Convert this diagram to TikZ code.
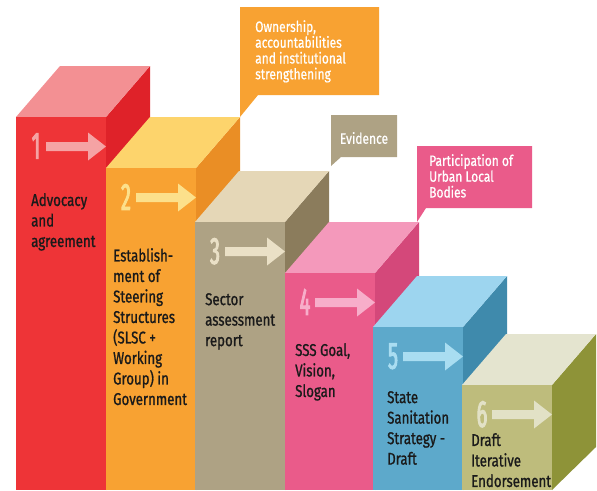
\documentclass[tikz,border=0pt]{standalone}
\usepackage{fontspec}
\setmainfont{Fira Sans}[FakeStretch=0.78, FakeBold=1]
\newfontfamily\calloutfont{Fira Sans}[FakeStretch=0.8, FakeBold=0.6]
\newfontfamily\numfont{Fira Sans}[FakeStretch=0.52, FakeBold=2.5]

% block colours: front, top, side, number/arrow
\definecolor{redfront}{HTML}{EE3437}
\definecolor{redtop}{HTML}{F39093}
\definecolor{redside}{HTML}{DF2229}
\definecolor{redmark}{HTML}{F5A3A4}
\definecolor{orangefront}{HTML}{F8A232}
\definecolor{orangetop}{HTML}{FDD46C}
\definecolor{orangeside}{HTML}{EA8E25}
\definecolor{orangemark}{HTML}{FCE08B}
\definecolor{taupefront}{HTML}{AEA284}
\definecolor{taupetop}{HTML}{E5D7B7}
\definecolor{taupeside}{HTML}{8B7C5C}
\definecolor{taupemark}{HTML}{EAE0C6}
\definecolor{pinkfront}{HTML}{EA5B8A}
\definecolor{pinktop}{HTML}{F499BB}
\definecolor{pinkside}{HTML}{D4487A}
\definecolor{pinkmark}{HTML}{F7AECA}
\definecolor{bluefront}{HTML}{5DA9CB}
\definecolor{bluetop}{HTML}{9DD5EF}
\definecolor{blueside}{HTML}{3F8AAC}
\definecolor{bluemark}{HTML}{A9DDF1}
\definecolor{olivefront}{HTML}{BEBC7C}
\definecolor{olivetop}{HTML}{E4E4CF}
\definecolor{oliveside}{HTML}{8E9338}
\definecolor{olivemark}{HTML}{E2E1C6}
\definecolor{inktext}{HTML}{1A1A1A}

% one step of the staircase: #1 colour prefix, #2 left x, #3 top y, #4 number, #5 name
\newcommand{\drawstep}[5]{%
  \fill[#1side] (#2+90,#3) -- ++(44,-51) -- (#2+134,447) -- (#2+90,490) -- cycle;
  \fill[#1top] (#2,#3) -- ++(44,-51) -- ++(90,0) -- (#2+90,#3) -- cycle;
  \fill[#1front] (#2,#3) rectangle (#2+90,490);
  \fill[#1mark] (#2+30,#3+25) -- (#2+72,#3+25) -- (#2+72,#3+15.5) -- (#2+90,#3+29.5)
    -- (#2+72,#3+43.5) -- (#2+72,#3+34) -- (#2+30,#3+34) -- cycle;
  \node[stepnum, text=#1mark] (#5) at (#2+20,#3+29) {#4};
}

\begin{document}
\begin{tikzpicture}[x=1pt, y=-1pt,
    stepnum/.style={inner sep=0pt, text depth=0pt,
      font=\numfont\fontsize{38}{38}\selectfont},
    steptext/.style={anchor=north west, inner sep=0pt, align=left, text=inktext,
      font=\fontsize{17}{20.5}\selectfont},
    callouttext/.style={inner sep=0pt, align=left, text=white,
      font=\calloutfont\fontsize{15}{15.8}\selectfont}]
  \useasboundingbox (0,0) rectangle (597,490);

  \drawstep{red}{16}{117}{1}{n1}
  \drawstep{orange}{106}{168}{2}{n2}
  \drawstep{taupe}{195}{222}{3}{n3}
  \drawstep{pink}{285}{273}{4}{n4}
  \drawstep{blue}{373}{327}{5}{n5}
  \drawstep{olive}{462}{385}{6}{n6}

  % step descriptions
  \node[steptext] (t1) at (31,193) {Advocacy\\and\\agreement};
  \node[steptext] (t2) at (113,248) {Establish-\\ment of\\Steering\\Structures\\(SLSC +\\Working\\Group) in\\Government};
  \node[steptext] (t3) at (205,293) {Sector\\assessment\\report};
  \node[steptext] (t4) at (295,343) {SSS Goal,\\Vision,\\Slogan};
  \node[steptext] (t5) at (387,391) {State\\Sanitation\\Strategy -\\Draft};
  \node[steptext] (t6) at (471,433) {Draft\\Iterative\\Endorsement};

  % speech callouts
  \fill[orangefront] (240,7) -- (379,7) -- (379,95) -- (258,95) -- (240,117) -- cycle;
  \node[callouttext, anchor=north west] (c1) at (255,20)
    {Ownership,\\accountabilities\\and institutional\\strengthening};
  \fill[taupefront] (331,115) -- (397,115) -- (397,157) -- (341,157) -- (331,166) -- cycle;
  \node[callouttext] (c2) at (364,138) {Evidence};
  \fill[pinkfront] (417,146) -- (532,146) -- (532,208) -- (426,208) -- (417,222) -- cycle;
  \node[callouttext, anchor=north west] (c3) at (429,154)
    {Participation of\\Urban Local\\Bodies};
\end{tikzpicture}
\end{document}
